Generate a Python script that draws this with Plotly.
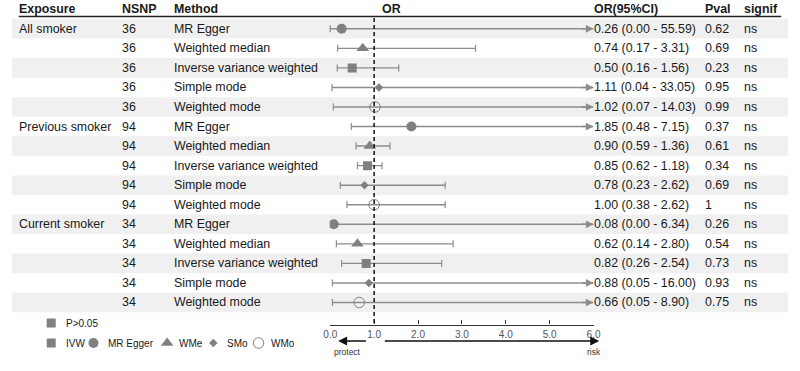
import plotly.graph_objects as go

# ---------------- data ----------------
groups = ["All smoker", "Previous smoker", "Current smoker"]
nsnp = [36, 36, 36, 36, 36, 94, 94, 94, 94, 94, 34, 34, 34, 34, 34]
methods = ["MR Egger", "Weighted median", "Inverse variance weighted", "Simple mode", "Weighted mode"] * 3
or_vals = [0.26, 0.74, 0.50, 1.11, 1.02, 1.85, 0.90, 0.85, 0.78, 1.00, 0.08, 0.62, 0.82, 0.88, 0.66]
ci_lo = [0.00, 0.17, 0.16, 0.04, 0.07, 0.48, 0.59, 0.62, 0.23, 0.38, 0.00, 0.14, 0.26, 0.05, 0.05]
ci_hi = [55.59, 3.31, 1.56, 33.05, 14.03, 7.15, 1.36, 1.18, 2.62, 2.62, 6.34, 2.80, 2.54, 16.00, 8.90]
pvals = ["0.62", "0.69", "0.23", "0.95", "0.99", "0.37", "0.61", "0.34", "0.69", "1",
         "0.26", "0.54", "0.73", "0.93", "0.75"]
signif = ["ns"] * 15
tick_vals = [0, 1, 2, 3, 4, 5, 6]
tick_text = ["0.0", "1.0", "2.0", "3.0", "4.0", "5.0", "6.0"]
xmax = 6.0

# ---------------- style ----------------
W, H = 800, 371
FONT = "Liberation Sans, Arial, Helvetica, sans-serif"
FS = 12.4
TXT = "#1a1a1a"
GREY = "#808080"
LINE_GREY = "#8c8c8c"
SHADE = "#f0f0f0"
X0_PX, X1_PX = 329.0, 597.0
sym_map = {"MR Egger": ("circle", 10), "Weighted median": ("triangle-up", 11),
           "Inverse variance weighted": ("square", 9), "Simple mode": ("diamond", 6.5),
           "Weighted mode": ("circle-open", 10.5)}

def px_to_row(p):
    return (p - 9.225) / 19.55

def px_x(p):
    return p / W

def data_to_px(v):
    return X0_PX + v * (X1_PX - X0_PX) / xmax

n = len(methods)
rows = list(range(1, n + 1))

fig = go.Figure()

# CI lines
lx, ly = [], []
for i in range(n):
    lx += [ci_lo[i], min(ci_hi[i], xmax), None]
    ly += [rows[i], rows[i], None]
fig.add_trace(go.Scatter(x=lx, y=ly, mode="lines", line=dict(color=LINE_GREY, width=1.4),
                         hoverinfo="skip", showlegend=False, cliponaxis=False))
# caps
cx, cy = [], []
for i in range(n):
    cx.append(ci_lo[i]); cy.append(rows[i])
    if ci_hi[i] <= xmax:
        cx.append(ci_hi[i]); cy.append(rows[i])
fig.add_trace(go.Scatter(x=cx, y=cy, mode="markers",
                         marker=dict(symbol="line-ns", size=5, line=dict(color=LINE_GREY, width=1.2)),
                         hoverinfo="skip", showlegend=False, cliponaxis=False))
# point estimates
for m, (sym, sz) in sym_map.items():
    idx = [i for i in range(n) if methods[i] == m]
    if sym == "circle-open":
        mk = dict(symbol=sym, size=sz, color=GREY, line=dict(color=GREY, width=1))
    else:
        mk = dict(symbol=sym, size=sz, color=GREY, line=dict(width=0))
    fig.add_trace(go.Scatter(x=[or_vals[i] for i in idx], y=[rows[i] for i in idx], mode="markers",
                             marker=mk, showlegend=False, cliponaxis=True))

shapes = []
ann = []
for i in range(n):
    if i % 2 == 0:
        shapes.append(dict(type="rect", xref="paper", yref="y", x0=px_x(5), x1=px_x(795),
                           y0=rows[i] - 0.5, y1=rows[i] + 0.5, fillcolor=SHADE, line=dict(width=0),
                           layer="below"))
shapes.append(dict(type="line", xref="paper", yref="y", x0=px_x(12), x1=px_x(788),
                   y0=px_to_row(16.5), y1=px_to_row(16.5), line=dict(color="#222", width=1.6)))
shapes.append(dict(type="line", xref="x", yref="y", x0=1, x1=1, y0=px_to_row(18), y1=px_to_row(324.5),
                   line=dict(color="#111", width=1.5, dash="4px,3px"), layer="above"))

# arrows for truncated CIs
for i in range(n):
    if ci_hi[i] > xmax:
        ann.append(dict(x=xmax, y=rows[i], xref="x", yref="y", ax=xmax - 0.3, ay=rows[i],
                        axref="x", ayref="y", text="", showarrow=True, arrowhead=2, arrowsize=1.1,
                        arrowwidth=1.4, arrowcolor=LINE_GREY, standoff=0))

def txt(x, y, s, bold=False, size=FS, color=TXT, anchor="left"):
    ann.append(dict(x=px_x(x), y=y, xref="paper", yref="y", text=f"<b>{s}</b>" if bold else s,
                    showarrow=False, xanchor=anchor, yanchor="middle",
                    font=dict(family=FONT, size=size, color=color)))

col = dict(exp=10, nsnp=115, method=168, orci=595, pval=708, sig=748)
txt(col["exp"], 0, "Exposure", bold=True)
txt(col["nsnp"], 0, "NSNP", bold=True)
txt(col["method"], 0, "Method", bold=True)
txt(391, 0, "OR", bold=True, anchor="center")
txt(col["orci"], 0, "OR(95%CI)", bold=True)
txt(col["pval"], 0, "Pval", bold=True)
txt(col["sig"], 0, "signif", bold=True)

for i in range(n):
    r = rows[i]
    if i % 5 == 0:
        txt(col["exp"], r, groups[i // 5])
    txt(col["nsnp"], r, str(nsnp[i]))
    txt(col["method"], r, methods[i])
    txt(col["orci"], r, f"{or_vals[i]:.2f} ({ci_lo[i]:.2f} - {ci_hi[i]:.2f})")
    txt(col["pval"], r, pvals[i])
    txt(col["sig"], r, signif[i])

# protect / risk arrows
yarr = 341
ann.append(dict(x=data_to_px(0.18), y=yarr, xref="x2", yref="y2", ax=data_to_px(0.85), ay=yarr,
                axref="x2", ayref="y2", text="", showarrow=True, arrowhead=2, arrowsize=1.2,
                arrowwidth=1.5, arrowcolor="#111", standoff=0))
ann.append(dict(x=data_to_px(6.13), y=yarr, xref="x2", yref="y2", ax=data_to_px(1.21), ay=yarr,
                axref="x2", ayref="y2", text="", showarrow=True, arrowhead=2, arrowsize=1.2,
                arrowwidth=1.5, arrowcolor="#111", standoff=0))
ylab = 352
ann.append(dict(x=data_to_px(0.40), y=ylab, xref="x2", yref="y2", text="protect", showarrow=False,
                xanchor="center", yanchor="middle", font=dict(family=FONT, size=8.5, color="#333")))
ann.append(dict(x=data_to_px(6.02), y=ylab, xref="x2", yref="y2", text="risk", showarrow=False,
                xanchor="center", yanchor="middle", font=dict(family=FONT, size=8.5, color="#333")))

# key
key_items = [("square", 9, 45, 323, "P>0.05", 58),
             ("square", 9, 45, 343, "IVW", 58),
             ("circle", 10, 88, 343, "MR Egger", 101),
             ("triangle-up", 11, 163, 343, "WMe", 173),
             ("diamond", 6.5, 210, 343, "SMo", 222),
             ("circle-open", 10.5, 256, 343, "WMo", 267)]
for sym, sz, kx, ky, lab, tx in key_items:
    mk = dict(symbol=sym, size=sz, color=GREY,
              line=dict(color=GREY, width=1) if sym == "circle-open" else dict(width=0))
    fig.add_trace(go.Scatter(x=[kx], y=[ky], xaxis="x2", yaxis="y2", mode="markers", marker=mk,
                             showlegend=False, hoverinfo="skip", cliponaxis=False))
    ann.append(dict(x=tx, y=ky, xref="x2", yref="y2", text=lab, showarrow=False, xanchor="left",
                    yanchor="middle", font=dict(family=FONT, size=10, color=TXT)))

y_bottom_dom = (H - 324.5) / H
fig.update_layout(
    width=W, height=H, margin=dict(l=0, r=0, t=0, b=0),
    paper_bgcolor="white", plot_bgcolor="rgba(0,0,0,0)",
    showlegend=False, shapes=shapes, annotations=ann,
    font=dict(family=FONT, color=TXT),
    xaxis=dict(domain=[X0_PX / W, X1_PX / W], range=[0, xmax], showgrid=False, zeroline=False,
               showline=True, linecolor="#333", linewidth=1.2, ticks="inside", ticklen=4,
               tickcolor="#333", tickwidth=1.2, tickvals=tick_vals, ticktext=tick_text,
               tickfont=dict(family=FONT, size=10, color="#555"), fixedrange=True),
    yaxis=dict(domain=[y_bottom_dom, 1], range=[px_to_row(324.5), px_to_row(0)], visible=False,
               fixedrange=True),
    xaxis2=dict(domain=[0, 1], range=[0, W], visible=False, anchor="y2", fixedrange=True),
    yaxis2=dict(domain=[0, 1], range=[H, 0], visible=False, anchor="x2", fixedrange=True),
)

fig.write_html("out.html")
